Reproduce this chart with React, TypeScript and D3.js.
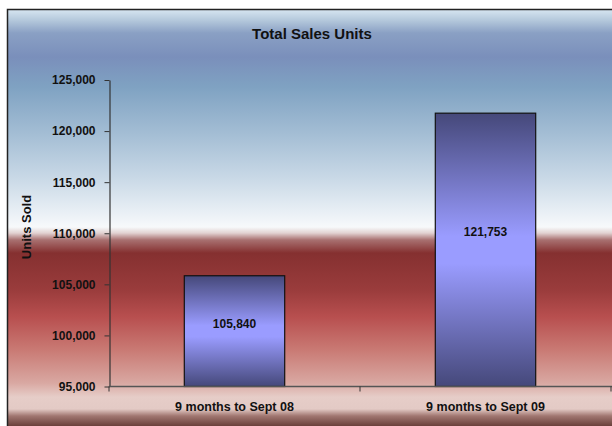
import * as d3 from 'd3';
import { useEffect, useRef } from 'react';

const categories = ['9 months to Sept 08', '9 months to Sept 09'];
const unitsSold = [105840, 121753];
const yTicks = [95000, 100000, 105000, 110000, 115000, 120000, 125000];

// background bands (offset in px from the top of the page)
const bgStops: [number, string][] = [
    [10, '#d5e4f0'],
    [20, '#b5c9dc'],
    [33, '#8aa0c4'],
    [57, '#7a8fbb'],
    [87, '#7fa2c2'],
    [133, '#a3bdd4'],
    [177, '#c8d8e6'],
    [207, '#e4ecf3'],
    [227, '#f7f9fb'],
    [233, '#e2d2d2'],
    [240, '#a87070'],
    [253, '#853030'],
    [290, '#9a3c3c'],
    [317, '#b84f4f'],
    [350, '#c97a74'],
    [383, '#d9a8a2'],
    [397, '#e6cdc8'],
    [409, '#e3cac5'],
    [416, '#a07670'],
    [426, '#6a403b'],
];

export default function App() {
    const svgRef = useRef<SVGSVGElement>(null);

    useEffect(() => {
        if (!svgRef.current) return;
        const W = 612,
            H = 426;
        const svg = d3.select(svgRef.current);
        svg.selectAll('*').remove();

        const font = 'Liberation Sans, Arial, sans-serif';
        const x = d3.scaleBand().domain(categories).range([109, 611]).paddingInner(0.6).paddingOuter(0.3);
        const y = d3.scaleLinear().domain([95000, 125000]).range([386.5, 80]);

        const defs = svg.append('defs');
        const bg = defs
            .append('linearGradient')
            .attr('id', 'bg')
            .attr('gradientUnits', 'userSpaceOnUse')
            .attr('x1', 0)
            .attr('x2', 0)
            .attr('y1', 0)
            .attr('y2', H);
        bgStops.forEach(([o, c]) => bg.append('stop').attr('offset', o / H).attr('stop-color', c));

        const barGrad = defs.append('linearGradient').attr('id', 'bar').attr('x1', 0).attr('x2', 0).attr('y1', 0).attr('y2', 1);
        [
            [0, '#45487a'],
            [0.45, '#9a9cff'],
            [0.55, '#9a9cff'],
            [1, '#45487a'],
        ].forEach(([o, c]) => barGrad.append('stop').attr('offset', o).attr('stop-color', c));

        // chart area with border
        svg.append('rect')
            .attr('x', 7.5)
            .attr('y', 9.5)
            .attr('width', W + 10)
            .attr('height', H + 10)
            .attr('fill', 'url(#bg)')
            .attr('stroke', '#222')
            .attr('stroke-width', 1.5);

        svg.append('text')
            .attr('x', 312)
            .attr('y', 39)
            .attr('text-anchor', 'middle')
            .attr('font-family', font)
            .attr('font-weight', 'bold')
            .attr('font-size', 15)
            .attr('fill', '#111')
            .text('Total Sales Units');

        // bars
        svg.append('g')
            .selectAll('rect')
            .data(unitsSold)
            .join('rect')
            .attr('x', (_d, i) => x(categories[i])!)
            .attr('y', (d) => y(d))
            .attr('width', x.bandwidth())
            .attr('height', (d) => y(95000) - y(d))
            .attr('fill', 'url(#bar)')
            .attr('stroke', '#111')
            .attr('stroke-width', 1.2);

        svg.append('g')
            .selectAll('text')
            .data(unitsSold)
            .join('text')
            .attr('x', (_d, i) => x(categories[i])! + x.bandwidth() / 2)
            .attr('y', (d) => y(d) + (y(95000) - y(d)) * 0.435)
            .attr('dy', '0.35em')
            .attr('text-anchor', 'middle')
            .attr('font-family', font)
            .attr('font-weight', 'bold')
            .attr('font-size', 12)
            .attr('fill', '#111')
            .text((d) => d3.format(',')(d));

        // y axis
        const yAxis = svg
            .append('g')
            .attr('transform', 'translate(109.5,0)')
            .call(d3.axisLeft(y).tickValues(yTicks).tickSize(5).tickSizeOuter(0).tickPadding(9).tickFormat(d3.format(',') as any));
        yAxis.select('.domain').attr('stroke', '#333').attr('stroke-width', 1.2);
        yAxis.selectAll('.tick line').attr('stroke', '#333');
        yAxis.selectAll('text').attr('font-family', font).attr('font-weight', 'bold').attr('font-size', 12).attr('fill', '#111');

        // x axis
        const xg = svg.append('g');
        xg.append('line')
            .attr('x1', 109)
            .attr('x2', 612)
            .attr('y1', y(95000))
            .attr('y2', y(95000))
            .attr('stroke', '#555')
            .attr('stroke-width', 1.5);
        const bounds = [x.range()[0], ...categories.map((c) => x(c)! + x.bandwidth() / 2 + x.step() / 2)];
        xg.selectAll('.tk')
            .data(bounds)
            .join('line')
            .attr('x1', (d) => d)
            .attr('x2', (d) => d)
            .attr('y1', y(95000))
            .attr('y2', y(95000) + 5)
            .attr('stroke', '#333');
        xg.selectAll('text')
            .data(categories)
            .join('text')
            .attr('x', (d) => x(d)! + x.bandwidth() / 2)
            .attr('y', 411)
            .attr('text-anchor', 'middle')
            .attr('font-family', font)
            .attr('font-weight', 'bold')
            .attr('font-size', 12.5)
            .attr('fill', '#111')
            .text((d) => d);

        svg.append('text')
            .attr('transform', 'translate(26,227) rotate(-90)')
            .attr('text-anchor', 'middle')
            .attr('dy', '0.35em')
            .attr('font-family', font)
            .attr('font-weight', 'bold')
            .attr('font-size', 13)
            .attr('fill', '#111')
            .text('Units Sold');
    }, []);

    return (
        <div style={{ position: 'absolute', left: 0, top: 0 }}>
            <svg ref={svgRef} width={612} height={426} style={{ display: 'block' }} />
        </div>
    );
}
